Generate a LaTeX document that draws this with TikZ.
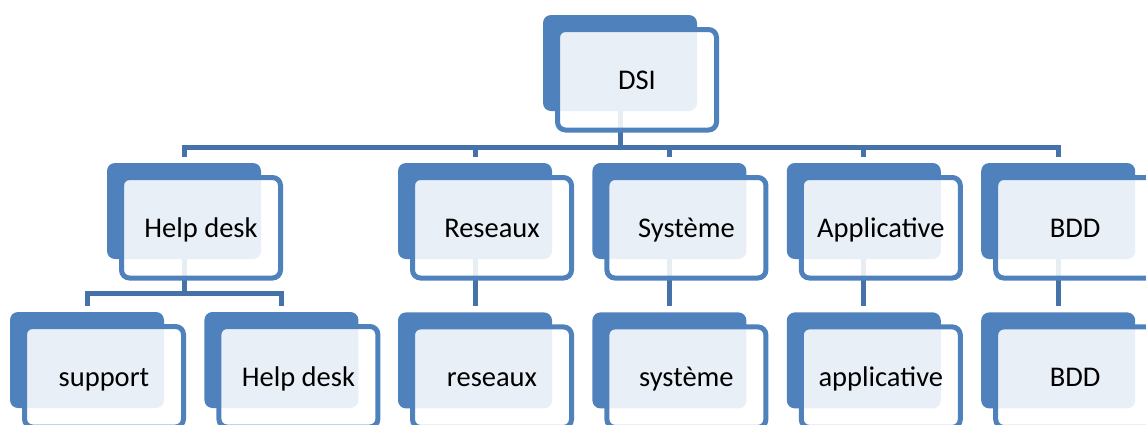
\documentclass[tikz,border=0pt]{standalone}
\usepackage{fontspec}
\setmainfont{Carlito}
\usepackage{tikz}
\usetikzlibrary{positioning,backgrounds}
\definecolor{smblue}{HTML}{4F81BD}
\definecolor{smline}{HTML}{4672AA}
\tikzset{
    shadowbox/.style = {fill=smblue, rounded corners=8pt, inner sep=0pt,
                 minimum width=154pt, minimum height=96pt},
    textbox/.style = {draw=smblue, line width=5pt, fill=white, fill opacity=0.88, text opacity=1,
                 rounded corners=8pt, minimum width=159pt, minimum height=100.5pt,
                 xshift=17pt, yshift=-16.75pt, text height=19pt, text depth=0pt,
                 font=\fontsize{28.5}{34}\selectfont},
    link/.style = {draw=smline, line width=5pt, shorten >=6pt},
}

\begin{document}
\begin{tikzpicture}[x=1pt,y=-1pt]
\useasboundingbox (0,0) rectangle (1146,424);

% blue boxes behind
\node (dsi) [shadowbox] at (620,63) {};
\node (help) [shadowbox] at (184,211) {};
\node (reseaux) [shadowbox] at (475,211) {};
\node (systeme) [shadowbox, right=40pt of reseaux] {};
\node (applic) [shadowbox, right=40pt of systeme] {};
\node (bdd) [shadowbox, right=40pt of applic] {};
\node (support) [shadowbox] at (87,360) {};
\node (helpb) [shadowbox, right=40pt of support] {};
\node (reseauxb) [shadowbox, below=53pt of reseaux] {};
\node (systemeb) [shadowbox, below=53pt of systeme] {};
\node (applicb) [shadowbox, below=53pt of applic] {};
\node (bddb) [shadowbox, below=53pt of bdd] {};

% connectors
\begin{pgfonlayer}{background}
\draw[link] (dsi.south) -- ++(0,36) -| (help.north);
\draw[link] (dsi.south) -- ++(0,36) -| (reseaux.north);
\draw[link] (dsi.south) -- ++(0,36) -| (systeme.north);
\draw[link] (dsi.south) -- ++(0,36) -| (applic.north);
\draw[link] (dsi.south) -- ++(0,36) -| (bdd.north);
\draw[link] (help.south) -- ++(0,34) -| (support.north);
\draw[link] (help.south) -- ++(0,34) -| (helpb.north);
\draw[link] (reseaux.south) -- (reseauxb.north);
\draw[link] (systeme.south) -- (systemeb.north);
\draw[link] (applic.south) -- (applicb.north);
\draw[link] (bdd.south) -- (bddb.north);
\end{pgfonlayer}

% text boxes in front
\node (dsitext) [textbox] at (dsi) {DSI};
\node (helptext) [textbox] at (help) {Help desk};
\node (reseauxtext) [textbox] at (reseaux) {Reseaux};
\node (systemetext) [textbox] at (systeme) {Système};
\node (applictext) [textbox] at (applic) {Applicative};
\node (bddtext) [textbox] at (bdd) {BDD};
\node (supporttext) [textbox] at (support) {support};
\node (helpbtext) [textbox] at (helpb) {Help desk};
\node (reseauxbtext) [textbox] at (reseauxb) {reseaux};
\node (systemebtext) [textbox] at (systemeb) {système};
\node (applicbtext) [textbox] at (applicb) {applicative};
\node (bddbtext) [textbox] at (bddb) {BDD};
\end{tikzpicture}
\end{document}
